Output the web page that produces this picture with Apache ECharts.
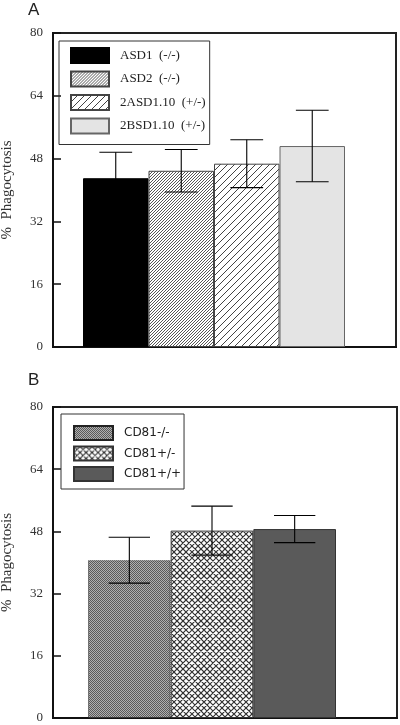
<!DOCTYPE html>
<html><head><meta charset="utf-8">
<script src="https://cdn.jsdelivr.net/npm/echarts@6/dist/echarts.min.js"></script>
<style>html,body{margin:0;padding:0;background:#fff}#c{width:400px;height:725px}</style>
</head><body><div id="c"></div>
<script>
// ---- data ----
const namesA = ['ASD1  (-/-)', 'ASD2  (-/-)', '2ASD1.10  (+/-)', '2BSD1.10  (+/-)'];
const meansA = [43.0, 44.9, 46.7, 51.2];
const errsA  = [6.6, 5.4, 6.1, 9.1];
const namesB = ['CD81-/-', 'CD81+/-', 'CD81+/+'];
const meansB = [40.6, 48.2, 48.6];
const errsB  = [5.9, 6.3, 3.5];
const yMin = 0, yMax = 80, yStep = 16;
const panelTitles = ['A', 'B'];
const yName = '%  Phagocytosis';

// ---- patterns ----
function mk(w, h, draw) {
  const c = document.createElement('canvas'); c.width = w; c.height = h;
  const g = c.getContext('2d'); draw(g, w, h);
  return { image: c, repeat: 'repeat' };
}
function hatch(sp, col, lw, bg, both) {
  const N = sp * 4;
  return mk(N, N, (g) => {
    g.fillStyle = bg; g.fillRect(0, 0, N, N);
    g.strokeStyle = col; g.lineWidth = lw;
    g.beginPath();
    for (let k = -N; k <= 2 * N; k += sp) {
      g.moveTo(k, N); g.lineTo(k + N, 0);
      if (both) { g.moveTo(k, 0); g.lineTo(k + N, N); }
    }
    g.stroke();
  });
}
const checker = mk(2, 2, (g) => {
  g.fillStyle = '#b0b0b0'; g.fillRect(0, 0, 2, 2);
  g.fillStyle = '#5a5a5a'; g.fillRect(0, 0, 1, 1); g.fillRect(1, 1, 1, 1);
});
const fillsA = ['#000000', hatch(3, '#555', 1, '#fff', false), hatch(7, '#444', 1, '#fff', false), '#e4e4e4'];
const bordersA = ['#000', '#444', '#444', '#666'];
const fillsB = [checker, hatch(6, '#333', 1.2, '#fff', true), '#5a5a5a'];
const bordersB = ['#222', '#333', '#333'];

// ---- layout ----
const frames = [
  { left: 53, top: 33, width: 343, height: 314 },
  { left: 53, top: 407, width: 344, height: 311 }
];
const barGrids = [
  { left: 83, top: 33, width: 262, height: 314 },
  { left: 88, top: 407, width: 248, height: 311 }
];

const grid = [], xAxis = [], yAxis = [], series = [];
[0, 1].forEach(p => {
  const f = frames[p], b = barGrids[p];
  grid.push(Object.assign({ show: true, borderColor: '#222', borderWidth: 2, backgroundColor: 'transparent',
    containLabel: false, outerBoundsMode: 'none' }, f));
  grid.push(Object.assign({ containLabel: false, outerBoundsMode: 'none' }, b));
  const gi = p * 2;
  xAxis.push({ gridIndex: gi, type: 'category', data: [''], axisTick: { show: false }, axisLabel: { show: false },
    axisLine: { lineStyle: { color: '#111', width: 2 } } });
  yAxis.push({ gridIndex: gi, type: 'value', min: yMin, max: yMax, interval: yStep,
    splitLine: { show: false },
    axisLine: { show: true, lineStyle: { color: '#111', width: 2 } },
    axisTick: { show: true, inside: true, length: 8, lineStyle: { color: '#111', width: 1.5 } },
    axisLabel: { margin: 10, color: '#333', fontFamily: 'Liberation Serif', fontSize: 13 },
    name: yName, nameLocation: 'middle', nameGap: 38, nameRotate: 90,
    nameTextStyle: { fontFamily: 'Liberation Serif', fontSize: 15, color: '#333' } });
  const names = p === 0 ? namesA : namesB;
  xAxis.push({ gridIndex: gi + 1, type: 'category', data: names, show: false, boundaryGap: true });
  yAxis.push({ gridIndex: gi + 1, type: 'value', min: yMin, max: yMax, show: false, splitLine: { show: false } });
  const means = p === 0 ? meansA : meansB;
  const errs = p === 0 ? errsA : errsB;
  const fills = p === 0 ? fillsA : fillsB;
  const borders = p === 0 ? bordersA : bordersB;
  names.forEach((n, i) => {
    series.push({
      type: 'bar', name: n, xAxisIndex: gi + 1, yAxisIndex: gi + 1,
      data: names.map((_, j) => j === i ? means[i] : '-'),
      barGap: '-100%', barCategoryGap: '0%',
      itemStyle: { color: fills[i], borderColor: borders[i], borderWidth: 1,
        borderType: (p === 1 && i === 0) ? 'dotted' : 'solid' },
      emphasis: { disabled: true }, animation: false
    });
  });
  series.push({
    type: 'custom', xAxisIndex: gi + 1, yAxisIndex: gi + 1, z: 10, animation: false,
    data: means.map((m, i) => [i, m, errs[i]]),
    encode: { x: 0, y: 1 },
    renderItem: (params, api) => {
      const i = api.value(0), m = api.value(1), e = api.value(2);
      const x = api.coord([i, m])[0];
      const yt = api.coord([i, m + e])[1];
      const yb = api.coord([i, m - e])[1];
      const hw = api.size([1, 0])[0] / 4;
      const st = { stroke: '#000', lineWidth: 1.1 };
      return { type: 'group', children: [
        { type: 'line', shape: { x1: x, y1: yt, x2: x, y2: yb }, style: st },
        { type: 'line', shape: { x1: x - hw, y1: yt, x2: x + hw, y2: yt }, style: st },
        { type: 'line', shape: { x1: x - hw, y1: yb, x2: x + hw, y2: yb }, style: st }
      ] };
    }
  });
});

const chart = echarts.init(document.getElementById('c'), null, { renderer: 'canvas' });
chart.setOption({
  animation: false,
  backgroundColor: '#fff',
  title: [
    { text: panelTitles[0], left: 28, top: 2, padding: 0, textStyle: { fontFamily: 'Liberation Sans', fontWeight: 'normal', fontSize: 17, color: '#222' } },
    { text: panelTitles[1], left: 28, top: 372, padding: 0, textStyle: { fontFamily: 'Liberation Sans', fontWeight: 'normal', fontSize: 17, color: '#222' } }
  ],
  legend: [
    { data: namesA, orient: 'vertical', left: 59, top: 41, itemWidth: 38, itemHeight: 15, itemGap: 6.5,
      padding: [6, 4, 10, 11], borderColor: '#333', borderWidth: 1, icon: 'rect', selectedMode: false,
      textStyle: { fontFamily: 'Liberation Serif', fontSize: 13, color: '#222', padding: [0, 0, 0, 6] } },
    { data: namesB, orient: 'vertical', left: 61, top: 414, itemWidth: 39, itemHeight: 14, itemGap: 4.5,
      padding: [11, 3, 7, 12], borderColor: '#333', borderWidth: 1, icon: 'rect', selectedMode: false,
      textStyle: { fontFamily: 'DejaVu Sans', fontSize: 12, color: '#222', padding: [0, 0, 0, 6] } }
  ],
  grid, xAxis, yAxis, series
});
</script></body></html>
